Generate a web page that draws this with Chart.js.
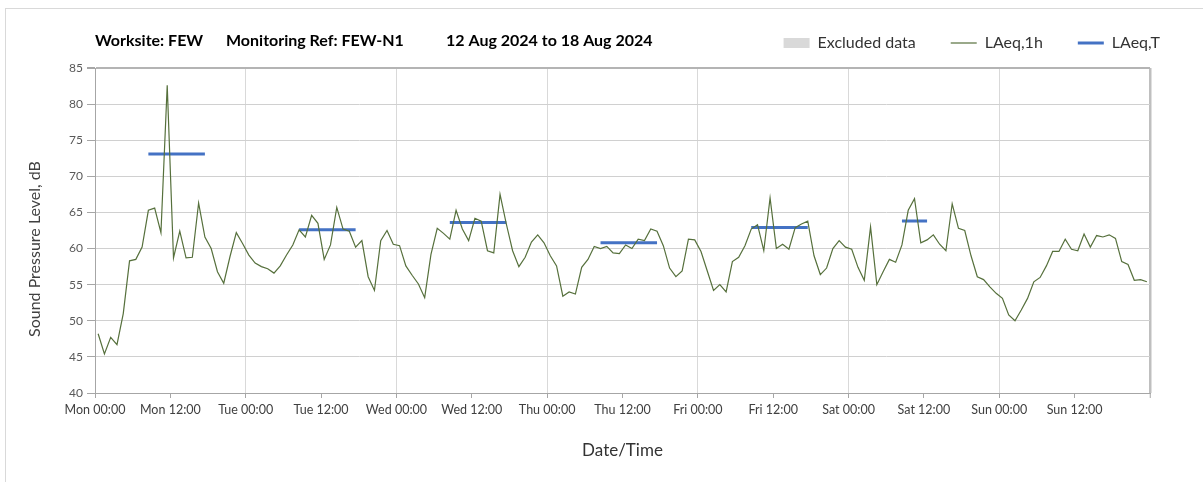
<!DOCTYPE html>
<html>
<head>
<meta charset="utf-8">
<script src="https://cdn.jsdelivr.net/npm/chart.js@4.4.1/dist/chart.umd.min.js"></script>
<style>
  html, body { margin: 0; padding: 0; background: #fff; }
  #wrap { position: relative; width: 1203px; height: 482px; overflow: hidden; }
  #frame { position: absolute; left: 5px; top: 8px; width: 1300px; height: 600px;
           border-left: 1px solid #d9d9d9; border-top: 1px solid #d9d9d9; }
  canvas { position: absolute; left: 0; top: 0; }
</style>
</head>
<body>
<div id="wrap"><div id="frame"></div><canvas id="myChart" width="1203" height="482"></canvas></div>
<script>
//*** Data
const xTickLabels = ["Mon 00:00", "Mon 12:00", "Tue 00:00", "Tue 12:00", "Wed 00:00", "Wed 12:00",
  "Thu 00:00", "Thu 12:00", "Fri 00:00", "Fri 12:00", "Sat 00:00", "Sat 12:00", "Sun 00:00", "Sun 12:00"];
const yTicks = [40, 45, 50, 55, 60, 65, 70, 75, 80, 85];

// LAeq,1h - one value per hour, Mon 00:00 to Sun 23:00
const laeq1h = [
  48.2, 45.4, 47.7, 46.7, 51.0, 58.3, 58.5, 60.2, 65.3, 65.6,
  62.2, 82.6, 58.7, 62.4, 58.7, 58.8, 66.3, 61.6, 60.0, 56.8,
  55.2, 58.9, 62.2, 60.7, 59.1, 58.0, 57.5, 57.2, 56.6, 57.6,
  59.1, 60.5, 62.6, 61.6, 64.6, 63.5, 58.5, 60.5, 65.7, 62.7,
  62.4, 60.2, 61.1, 56.1, 54.2, 61.1, 62.5, 60.6, 60.4, 57.6,
  56.3, 55.1, 53.2, 59.2, 62.8, 62.1, 61.3, 65.3, 62.7, 61.1,
  64.2, 63.8, 59.7, 59.4, 67.5, 63.4, 59.7, 57.5, 58.8, 60.9,
  61.9, 60.8, 59.0, 57.6, 53.4, 54.0, 53.7, 57.4, 58.5, 60.3,
  60.0, 60.3, 59.4, 59.3, 60.5, 60.0, 61.3, 61.1, 62.7, 62.4,
  60.4, 57.3, 56.1, 56.9, 61.3, 61.2, 59.6, 56.9, 54.2, 55.0,
  54.0, 58.2, 58.8, 60.4, 62.7, 63.3, 59.7, 67.0, 60.0, 60.6,
  59.9, 62.9, 63.4, 63.8, 59.0, 56.4, 57.3, 60.0, 61.1, 60.2,
  59.9, 57.4, 55.6, 63.0, 55.0, 56.8, 58.5, 58.1, 60.5, 65.3,
  66.9, 60.8, 61.2, 61.9, 60.6, 59.7, 66.2, 62.8, 62.5, 59.0,
  56.1, 55.7, 54.7, 53.8, 53.1, 50.8, 50.0, 51.5, 53.1, 55.4,
  56.0, 57.6, 59.6, 59.6, 61.3, 59.9, 59.7, 62.0, 60.2, 61.8,
  61.6, 61.9, 61.4, 58.2, 57.8, 55.6, 55.7, 55.4
];

// LAeq,T periods (hours from Mon 00:00)
const periodStart = [8.5, 32.5, 56.5, 80.5, 104.5, 128.5];
const periodEnd = [17.5, 41.5, 65.5, 89.5, 113.5, 132.5];
const periodLevel = [73.1, 62.6, 63.6, 60.8, 62.9, 63.8];

const titleParts = ["Worksite: FEW", "Monitoring Ref: FEW-N1", "12 Aug 2024 to 18 Aug 2024"];
const yTitle = "Sound Pressure Level, dB";

//*** Build datasets
const hourlyPoints = laeq1h.map((v, i) => ({ x: i + 0.5, y: v }));
const periodPoints = [];
periodStart.forEach((s, i) => {
  periodPoints.push({ x: s, y: periodLevel[i] });
  periodPoints.push({ x: periodEnd[i], y: periodLevel[i] });
  periodPoints.push({ x: periodEnd[i], y: null });
});

const FONT = "Lato, 'Open Sans', sans-serif";

const headerText = {
  id: "headerText",
  afterDraw(chart) {
    const ctx = chart.ctx;
    ctx.save();
    ctx.fillStyle = "#000";
    ctx.textBaseline = "middle";
    ctx.font = "bold 16px " + FONT;
    ctx.fillText(titleParts[0], 95, 41);
    ctx.fillText(titleParts[1], 226, 41);
    ctx.fillText(titleParts[2], 446, 41);
    ctx.fillStyle = "#404040";
    ctx.font = "16px " + FONT;
    ctx.translate(35, 249);
    ctx.rotate(-Math.PI / 2);
    ctx.textAlign = "center";
    ctx.fillText(yTitle, 0, 0);
    ctx.restore();
  },
};

const config = {
  type: "line",
  data: {
    datasets: [
      {
        label: "Excluded data",
        data: [],
        backgroundColor: "#d9d9d9",
        borderColor: "#d9d9d9",
        legendStyle: "rect",
        legendWidth: 0,
      },
      {
        label: "LAeq,1h",
        data: hourlyPoints,
        borderColor: "#56703c",
        borderWidth: 1.2,
        pointRadius: 0,
        tension: 0,
        legendStyle: "line",
        legendWidth: 1.2,
      },
      {
        label: "LAeq,T",
        data: periodPoints,
        borderColor: "#4472C4",
        borderWidth: 3,
        pointRadius: 0,
        spanGaps: false,
        legendStyle: "line",
        legendWidth: 3,
      },
    ],
  },
  options: {
    responsive: false,
    animation: false,
    layout: { padding: { top: 0, left: 6, right: 8, bottom: 0 } },
    plugins: {
      tooltip: { enabled: false },
      legend: {
        position: "top",
        align: "end",
        labels: {
          usePointStyle: true,
          pointStyleWidth: 26,
          boxHeight: 10,
          padding: 35,
          color: "#333",
          font: { family: FONT, size: 16 },
          generateLabels: (chart) =>
            chart.data.datasets.map((ds, i) => ({
              text: ds.label,
              fillStyle: ds.backgroundColor || ds.borderColor,
              strokeStyle: ds.borderColor,
              lineWidth: ds.legendWidth,
              pointStyle: ds.legendStyle,
              fontColor: "#333",
              hidden: false,
              datasetIndex: i,
            })),
        },
      },
    },
    scales: {
      x: {
        type: "linear",
        min: 0,
        max: 168,
        ticks: {
          stepSize: 12,
          autoSkip: false,
          maxRotation: 0,
          padding: 4,
          color: "#404040",
          font: { family: FONT, size: 12.5 },
          callback: (v) => (xTickLabels[v / 12] !== undefined ? xTickLabels[v / 12] : ""),
        },
        grid: {
          color: (c) => {
            const v = c.tick ? c.tick.value : 0;
            if (v === 168) return "#bfbfbf";
            if (v === 0) return "#a6a6a6";
            return v % 24 === 0 ? "#d9d9d9" : "rgba(0,0,0,0)";
          },
          lineWidth: (c) => (c.tick && c.tick.value === 168 ? 2.5 : 1),
          tickColor: "#a6a6a6",
          tickWidth: 1,
          tickLength: 5,
        },
        border: { color: "#a6a6a6", width: 1 },
        title: {
          display: true,
          text: "Date/Time",
          color: "#333",
          font: { family: FONT, size: 17 },
          padding: { top: 0, bottom: 21 },
        },
        afterFit: (s) => { s.height = 89; },
      },
      y: {
        min: 40,
        max: 85,
        afterBuildTicks: (s) => { s.ticks = yTicks.map((v) => ({ value: v })); },
        ticks: {
          padding: 4,
          color: "#595959",
          font: { family: FONT, size: 12 },
        },
        grid: {
          color: (c) => (c.tick && c.tick.value === 85 ? "#b4b4b4" : "#d0d0d0"),
          lineWidth: (c) => (c.tick && c.tick.value === 85 ? 2 : 1),
          tickColor: "#a6a6a6",
          tickLength: 8,
        },
        border: { color: "#a6a6a6", width: 1 },
        afterFit: (s) => { s.width = 89; },
      },
      yRight: {
        position: "right",
        grid: { display: false },
        border: { display: false },
        ticks: { display: false },
        afterFit: (s) => { s.width = 45; },
      },
      xTop: {
        type: "linear",
        position: "top",
        grid: { display: false },
        border: { display: false },
        ticks: { display: false },
        afterFit: (s) => { s.height = 7; },
      },
    },
  },
  plugins: [headerText],
};

var myChart = new Chart(document.getElementById("myChart"), config);
</script>
</body>
</html>
